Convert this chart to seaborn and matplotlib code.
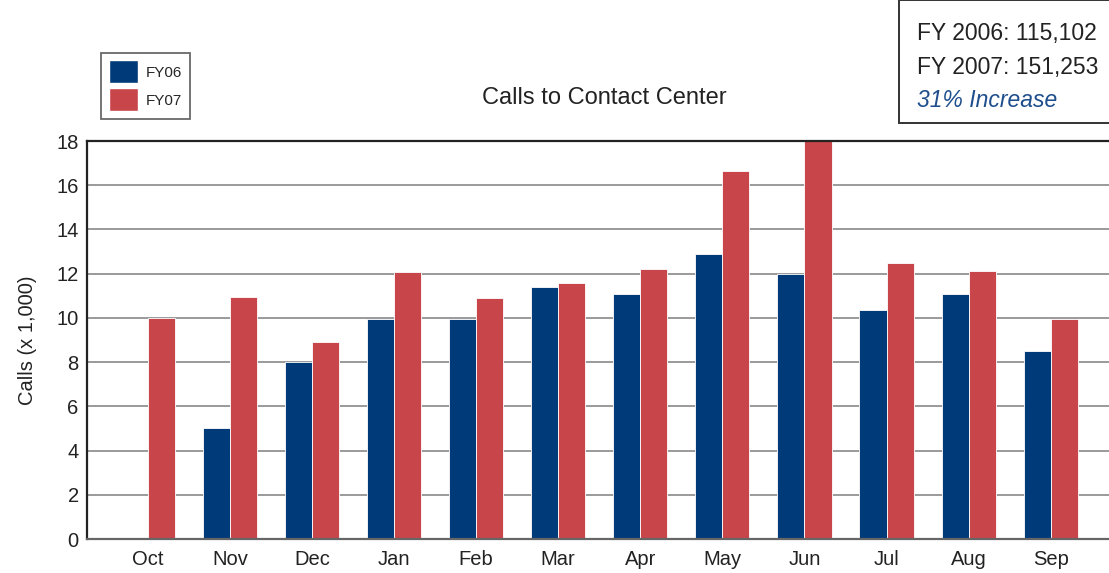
import matplotlib
matplotlib.use("Agg")
import matplotlib.pyplot as plt
import matplotlib.patches as mpatches
import numpy as np
import pandas as pd
import seaborn as sns

months = ["Oct", "Nov", "Dec", "Jan", "Feb", "Mar", "Apr", "May", "Jun", "Jul", "Aug", "Sep"]
fy06 = [0.0, 5.0, 8.02, 9.93, 9.93, 11.38, 11.1, 12.87, 11.97, 10.34, 11.1, 8.52]
fy07 = [10.0, 10.94, 8.93, 12.06, 10.88, 11.6, 12.19, 16.64, 18.0, 12.47, 12.1, 9.97]
series = ["FY06", "FY07"]
yticks = [0, 2, 4, 6, 8, 10, 12, 14, 16, 18]
info_lines = ["FY 2006: 115,102", "FY 2007: 151,253", "31% Increase"]

BLUE = "#003A78"
RED = "#C8454A"

df = pd.DataFrame({
    "Month": months * 2,
    "Calls": fy06 + fy07,
    "Series": [series[0]] * len(months) + [series[1]] * len(months),
})

sns.set_theme(style="white")
FONT = ["Liberation Sans", "DejaVu Sans"]
plt.rcParams["font.family"] = FONT

fig = plt.figure(figsize=(11.09, 5.73), dpi=100)
ax = fig.add_axes([0.0785, 0.0593, 0.9215, 0.6946])

ax.set_axisbelow(True)
ax.yaxis.grid(True, color="#9a9a9a", linewidth=1.4)
sns.barplot(data=df, x="Month", y="Calls", hue="Series", order=months,
            palette={"FY06": BLUE, "FY07": RED}, width=0.66, dodge=True,
            saturation=1, edgecolor="white", linewidth=0.6, legend=False, ax=ax)

ax.set_ylim(0, 18)
ax.set_xlim(-0.74, 11.71)
ax.set_yticks(yticks)
ax.set_yticklabels([str(v) for v in yticks])
ax.tick_params(axis="both", labelsize=14.5, colors="#222222", length=0, pad=6)
ax.tick_params(axis="x", pad=8)
ax.set_xlabel("")
ax.set_ylabel("Calls (x 1,000)", fontsize=14.5, color="#222222", labelpad=14)

for side in ["top", "left"]:
    ax.spines[side].set_visible(True)
    ax.spines[side].set_color("#222222")
    ax.spines[side].set_linewidth(1.6)
ax.spines["bottom"].set_color("#666666")
ax.spines["bottom"].set_linewidth(1.6)
ax.spines["right"].set_visible(False)

fig.text(0.5445, 0.829, "Calls to Contact Center", fontsize=17, color="#222222",
         ha="center", va="center")

handles = [mpatches.Patch(facecolor=BLUE, label=series[0]),
           mpatches.Patch(facecolor=RED, label=series[1])]
leg = fig.legend(handles=handles, loc="upper left", bbox_to_anchor=(0.091, 0.908),
                 frameon=True, fontsize=11, handlelength=1.9, handleheight=1.9,
                 handletextpad=0.55, labelspacing=0.35, borderpad=0.5,
                 borderaxespad=0, fancybox=False, edgecolor="#444444")
leg.get_frame().set_linewidth(1.3)

# info box
box = mpatches.Rectangle((0.8105, 0.786), 0.2, 0.214, transform=fig.transFigure,
                         facecolor="white", edgecolor="#333333", linewidth=1.4)
fig.add_artist(box)
ys = [0.942, 0.883, 0.825]
for i, (txt, y) in enumerate(zip(info_lines, ys)):
    fig.text(0.827, y, txt, fontsize=16.5,
             color="#1E4E8C" if i == 2 else "#222222",
             style="italic" if i == 2 else "normal",
             ha="left", va="center")

fig.savefig("out.png", dpi=100)
